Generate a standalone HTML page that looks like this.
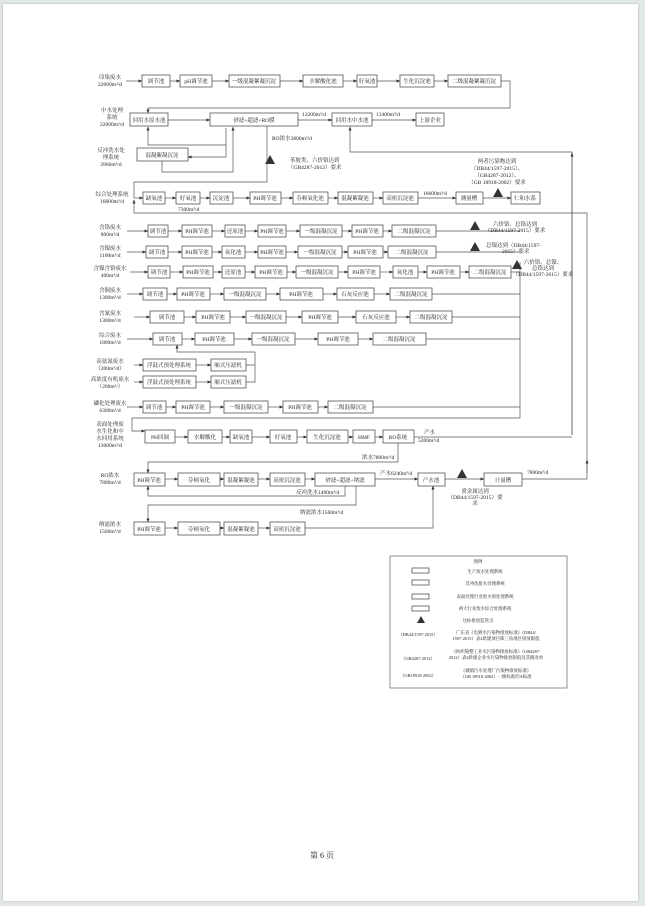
<!DOCTYPE html>
<html><head><meta charset="utf-8"><style>
html,body{margin:0;padding:0;background:#e2e8e8;width:645px;height:906px;overflow:hidden}
#pg{position:absolute;left:3px;top:4px;width:635px;height:897px;background:#fff;box-shadow:0 0 2px #aaa}
svg{position:absolute;left:0;top:0}
text{font-family:"Liberation Serif","Noto Serif CJK SC",serif;font-size:5.5px;fill:#222}
.b{fill:#fff;stroke:#555;stroke-width:0.8}
.l{fill:none;stroke:#555;stroke-width:0.7}
.c{text-anchor:middle}
.s{font-size:4.4px}
</style></head><body><div id="pg"></div>
<svg width="645" height="906" viewBox="0 0 645 906">
<defs><marker id="a" markerWidth="4" markerHeight="4" refX="3.5" refY="2" orient="auto" markerUnits="userSpaceOnUse"><path d="M0,0.5L4,2L0,3.5z" fill="#333"/></marker></defs>

<text x="110" y="79" class="c">印染废水</text><text x="110" y="86" class="c">22000m³/d</text>
<g class="l" marker-end="url(#a)"><path d="M126,81H142"/><path d="M170,81H180"/><path d="M212,81H229"/><path d="M280,81H303"/><path d="M343,81H357"/><path d="M377,81H400"/><path d="M434,81H448"/></g>
<rect class="b" x="142" y="75" width="28" height="12"/><text x="156" y="83" class="c">调节池</text>
<rect class="b" x="180" y="75" width="32" height="12"/><text x="196" y="83" class="c">pH调节池</text>
<rect class="b" x="229" y="75" width="51" height="12"/><text x="254" y="83" class="c">一级混凝絮凝沉淀</text>
<rect class="b" x="303" y="75" width="40" height="12"/><text x="323" y="83" class="c">水解酸化池</text>
<rect class="b" x="357" y="75" width="20" height="12"/><text x="367" y="83" class="c">好氧池</text>
<rect class="b" x="400" y="75" width="34" height="12"/><text x="417" y="83" class="c">生化沉淀池</text>
<rect class="b" x="448" y="75" width="53" height="12"/><text x="474" y="83" class="c">二级混凝絮凝沉淀</text>
<path class="l" d="M501,81H510V108H148V113" marker-end="url(#a)"/>

<text x="112" y="112" class="c">中水处理</text><text x="112" y="119" class="c">系统</text><text x="112" y="126" class="c">22000m³/d</text>
<rect class="b" x="130" y="113" width="38" height="13"/><text x="149" y="122" class="c">回用水原水池</text>
<rect class="b" x="210" y="113" width="88" height="13"/><text x="254" y="122" class="c">砂滤+超滤+RO膜</text>
<rect class="b" x="332" y="113" width="40" height="13"/><text x="352" y="122" class="c">回用水中水池</text>
<rect class="b" x="416" y="113" width="28" height="13"/><text x="430" y="122" class="c">上游企业</text>
<g class="l" marker-end="url(#a)"><path d="M168,120H210"/><path d="M298,120H332"/><path d="M372,120H416"/></g>
<text x="302" y="116">13200m³/d</text><text x="376" y="116">13400m³/d</text>
<path class="l" d="M572,435V152H350V127" marker-end="url(#a)"/>
<path class="l" d="M572,435V153" marker-end="url(#a)"/>
<text x="272" y="140">RO浓水3800m³/d</text>

<text x="111" y="152" class="c">反冲洗水处</text><text x="111" y="159" class="c">理系统</text><text x="111" y="166" class="c">3960m³/d</text>
<rect class="b" x="137" y="148" width="51" height="13"/><text x="162" y="157" class="c">混凝絮凝沉淀</text>
<path class="l" d="M226,128V145H148V127" marker-end="url(#a)"/>
<path class="l" d="M226,145V157H188" marker-end="url(#a)"/>
<path class="l" d="M162,161V172H233V127" marker-end="url(#a)"/>
<path d="M265,164l5,-9l5,9z" fill="#333"/>
<text x="290" y="162">苯胺类、六价铬达到</text><text x="288" y="169">（GB4287-2012）要求</text>

<text x="112" y="196" class="c">综合处理系统</text><text x="112" y="203" class="c">16600m³/d</text>
<path class="l" d="M267,126V182H134V198"/>
<path class="l" d="M587,473V213H134V200" marker-end="url(#a)"/>
<path class="l" d="M134,198H143" marker-end="url(#a)"/>
<rect class="b" x="143" y="192" width="22" height="12"/><text x="154" y="200" class="c">缺氧池</text>
<rect class="b" x="176" y="192" width="24" height="12"/><text x="188" y="200" class="c">好氧池</text>
<rect class="b" x="210" y="192" width="23" height="12"/><text x="221" y="200" class="c">沉淀池</text>
<rect class="b" x="250" y="192" width="31" height="12"/><text x="265" y="200" class="c">PH调节池</text>
<rect class="b" x="293" y="192" width="35" height="12"/><text x="310" y="200" class="c">芬顿氧化池</text>
<rect class="b" x="338" y="192" width="35" height="12"/><text x="355" y="200" class="c">混凝絮凝池</text>
<rect class="b" x="383" y="192" width="35" height="12"/><text x="400" y="200" class="c">高密沉淀池</text>
<rect class="b" x="456" y="192" width="27" height="12"/><text x="469" y="200" class="c">测量槽</text>
<rect class="b" x="511" y="192" width="29" height="12"/><text x="525" y="200" class="c">仁和水系</text>
<g class="l" marker-end="url(#a)"><path d="M165,198H176"/><path d="M200,198H210"/><path d="M233,198H250"/><path d="M281,198H293"/><path d="M328,198H338"/><path d="M373,198H383"/><path d="M418,198H456"/><path d="M483,198H511"/></g>
<path d="M493,197l5,-9l5,9z" fill="#333"/>
<text x="423" y="195">16600m³/d</text><text x="178" y="211">7300m³/d</text>
<text x="497" y="163" class="c">两者污染物达到</text><text x="497" y="170" class="c">（DB44/1597-2015）、</text><text x="497" y="177" class="c">（GB4287-2012）、</text><text x="497" y="184" class="c">（GB 18918-2002）要求</text>

<g class="l"><path d="M520,262V418"/><path d="M520,418H132V431H145" marker-end="url(#a)"/></g>

<text x="110" y="229" class="c">含铬废水</text><text x="110" y="236" class="c">800m³/d</text>
<g class="l" marker-end="url(#a)"><path d="M127,231H148"/><path d="M168,231H182"/><path d="M212,231H225"/><path d="M245,231H258"/><path d="M286,231H300"/><path d="M342,231H352"/><path d="M383,231H392"/></g>
<path class="l" d="M436,231H520"/>
<rect class="b" x="148" y="225" width="20" height="12"/><text x="158" y="233" class="c">调节池</text>
<rect class="b" x="182" y="225" width="30" height="12"/><text x="197" y="233" class="c">PH调节池</text>
<rect class="b" x="225" y="225" width="20" height="12"/><text x="235" y="233" class="c">还原池</text>
<rect class="b" x="258" y="225" width="28" height="12"/><text x="272" y="233" class="c">PH调节池</text>
<rect class="b" x="300" y="225" width="42" height="12"/><text x="321" y="233" class="c">一级混凝沉淀</text>
<rect class="b" x="352" y="225" width="31" height="12"/><text x="367" y="233" class="c">PH调节池</text>
<rect class="b" x="392" y="225" width="44" height="12"/><text x="414" y="233" class="c">二级混凝沉淀</text>
<path d="M470,230l5,-9l5,9z" fill="#333"/>
<text x="515" y="226" class="c">六价铬、总铬达到</text><text x="515" y="232" class="c">（DB44/1597-2015）要求</text>

<text x="110" y="250" class="c">含镍废水</text><text x="110" y="257" class="c">1100m³/d</text>
<g class="l" marker-end="url(#a)"><path d="M127,252H146"/><path d="M168,252H182"/><path d="M212,252H222"/><path d="M245,252H258"/><path d="M286,252H298"/><path d="M342,252H348"/><path d="M383,252H388"/></g>
<path class="l" d="M436,252H520"/>
<rect class="b" x="146" y="246" width="22" height="12"/><text x="157" y="254" class="c">调节池</text>
<rect class="b" x="182" y="246" width="30" height="12"/><text x="197" y="254" class="c">PH调节池</text>
<rect class="b" x="222" y="246" width="23" height="12"/><text x="233" y="254" class="c">氧化池</text>
<rect class="b" x="258" y="246" width="28" height="12"/><text x="272" y="254" class="c">PH调节池</text>
<rect class="b" x="298" y="246" width="44" height="12"/><text x="320" y="254" class="c">一级混凝沉淀</text>
<rect class="b" x="348" y="246" width="35" height="12"/><text x="365" y="254" class="c">PH调节池</text>
<rect class="b" x="388" y="246" width="48" height="12"/><text x="412" y="254" class="c">二级混凝沉淀</text>
<path d="M470,251l5,-9l5,9z" fill="#333"/>
<text x="486" y="247">总镍达到（DB44/1597-</text><text x="502" y="253">2015）要求</text>

<text x="110" y="270" class="c">含镍含铬废水</text><text x="110" y="277" class="c">400m³/d</text>
<g class="l" marker-end="url(#a)"><path d="M130,272H148"/><path d="M170,272H183"/><path d="M213,272H222"/><path d="M245,272H255"/><path d="M287,272H296"/><path d="M338,272H348"/><path d="M380,272H393"/><path d="M418,272H427"/><path d="M460,272H469"/></g>
<path class="l" d="M511,272H520"/>
<rect class="b" x="148" y="266" width="22" height="12"/><text x="159" y="274" class="c">调节池</text>
<rect class="b" x="183" y="266" width="30" height="12"/><text x="198" y="274" class="c">PH调节池</text>
<rect class="b" x="222" y="266" width="23" height="12"/><text x="233" y="274" class="c">还原池</text>
<rect class="b" x="255" y="266" width="32" height="12"/><text x="271" y="274" class="c">PH调节池</text>
<rect class="b" x="296" y="266" width="42" height="12"/><text x="317" y="274" class="c">一级混凝沉淀</text>
<rect class="b" x="348" y="266" width="32" height="12"/><text x="364" y="274" class="c">PH调节池</text>
<rect class="b" x="393" y="266" width="25" height="12"/><text x="405" y="274" class="c">氧化池</text>
<rect class="b" x="427" y="266" width="33" height="12"/><text x="443" y="274" class="c">PH调节池</text>
<rect class="b" x="469" y="266" width="42" height="12"/><text x="490" y="274" class="c">二级混凝沉淀</text>
<path d="M512,269l5,-9l5,9z" fill="#333"/>
<text x="543" y="264" class="c">六价铬、总镍、</text><text x="543" y="270" class="c">总铬达到</text><text x="543" y="276" class="c">（DB44/1597-2015）要求</text>

<text x="110" y="292" class="c">含铜废水</text><text x="110" y="299" class="c">1300m³/d</text>
<g class="l" marker-end="url(#a)"><path d="M127,294H143"/><path d="M167,294H177"/><path d="M210,294H224"/><path d="M266,294H280"/><path d="M323,294H337"/><path d="M374,294H390"/></g>
<path class="l" d="M432,294H520"/>
<rect class="b" x="143" y="288" width="24" height="12"/><text x="155" y="296" class="c">调节池</text>
<rect class="b" x="177" y="288" width="33" height="12"/><text x="193" y="296" class="c">PH调节池</text>
<rect class="b" x="224" y="288" width="42" height="12"/><text x="245" y="296" class="c">一级混凝沉淀</text>
<rect class="b" x="280" y="288" width="43" height="12"/><text x="301" y="296" class="c">PH调节池</text>
<rect class="b" x="337" y="288" width="37" height="12"/><text x="355" y="296" class="c">石灰反应池</text>
<rect class="b" x="390" y="288" width="42" height="12"/><text x="411" y="296" class="c">二级混凝沉淀</text>

<text x="110" y="315" class="c">含氰废水</text><text x="110" y="322" class="c">1300m³/d</text>
<g class="l" marker-end="url(#a)"><path d="M134,317H150"/><path d="M184,317H196"/><path d="M230,317H246"/><path d="M286,317H302"/><path d="M338,317H356"/><path d="M396,317H410"/></g>
<path class="l" d="M452,317H520"/>
<rect class="b" x="150" y="311" width="34" height="12"/><text x="167" y="319" class="c">调节池</text>
<rect class="b" x="196" y="311" width="34" height="12"/><text x="213" y="319" class="c">PH调节池</text>
<rect class="b" x="246" y="311" width="40" height="12"/><text x="266" y="319" class="c">一级混凝沉淀</text>
<rect class="b" x="302" y="311" width="36" height="12"/><text x="320" y="319" class="c">PH调节池</text>
<rect class="b" x="356" y="311" width="40" height="12"/><text x="376" y="319" class="c">石灰反应池</text>
<rect class="b" x="410" y="311" width="42" height="12"/><text x="431" y="319" class="c">二级混凝沉淀</text>

<text x="110" y="337" class="c">综合废水</text><text x="110" y="344" class="c">1800m³/d</text>
<g class="l" marker-end="url(#a)"><path d="M127,339H153"/><path d="M182,339H195"/><path d="M234,339H252"/><path d="M295,339H318"/><path d="M358,339H373"/></g>
<path class="l" d="M426,339H520"/>
<rect class="b" x="153" y="333" width="29" height="12"/><text x="167" y="341" class="c">调节池</text>
<rect class="b" x="195" y="333" width="39" height="12"/><text x="214" y="341" class="c">PH调节池</text>
<rect class="b" x="252" y="333" width="43" height="12"/><text x="273" y="341" class="c">一级混凝沉淀</text>
<rect class="b" x="318" y="333" width="40" height="12"/><text x="338" y="341" class="c">PH调节池</text>
<rect class="b" x="373" y="333" width="53" height="12"/><text x="399" y="341" class="c">二级混凝沉淀</text>

<text x="110" y="363" class="c">高氨氮废水</text><text x="110" y="370" class="c">（200m³/d）</text>
<text x="110" y="381" class="c">高浓度有机废水</text><text x="110" y="388" class="c">（200m³/）</text>
<rect class="b" x="143" y="359" width="53" height="12"/><text x="169" y="367" class="c">浮鼓式预处理系统</text>
<rect class="b" x="211" y="359" width="35" height="12"/><text x="228" y="367" class="c">厢式压滤机</text>
<rect class="b" x="143" y="376" width="53" height="12"/><text x="169" y="384" class="c">浮鼓式预处理系统</text>
<rect class="b" x="211" y="376" width="35" height="12"/><text x="228" y="384" class="c">厢式压滤机</text>
<g class="l" marker-end="url(#a)"><path d="M134,365H143"/><path d="M196,365H211"/><path d="M134,382H143"/><path d="M196,382H211"/></g>
<path class="l" d="M246,365H255V382H246M255,372V352H177V345" marker-end="url(#a)"/>

<text x="110" y="405" class="c">磷化处理废水</text><text x="110" y="412" class="c">6300m³/d</text>
<g class="l" marker-end="url(#a)"><path d="M127,407H143"/><path d="M166,407H176"/><path d="M210,407H224"/><path d="M268,407H283"/><path d="M318,407H328"/></g>
<path class="l" d="M373,407H520"/>
<rect class="b" x="143" y="401" width="23" height="12"/><text x="154" y="409" class="c">调节池</text>
<rect class="b" x="176" y="401" width="34" height="12"/><text x="193" y="409" class="c">PH调节池</text>
<rect class="b" x="224" y="401" width="44" height="12"/><text x="246" y="409" class="c">一级混凝沉淀</text>
<rect class="b" x="283" y="401" width="35" height="12"/><text x="300" y="409" class="c">PH调节池</text>
<rect class="b" x="328" y="401" width="45" height="12"/><text x="350" y="409" class="c">二级混凝沉淀</text>

<text x="110" y="426" class="c">表面处理废</text><text x="110" y="433" class="c">水生化和中</text><text x="110" y="440" class="c">水回用系统</text><text x="110" y="447" class="c">13000m³/d</text>
<g class="l" marker-end="url(#a)"><path d="M175,437H188"/><path d="M222,437H230"/><path d="M252,437H270"/><path d="M297,437H307"/><path d="M348,437H353"/><path d="M375,437H383"/></g>
<path class="l" d="M414,437H572"/>
<rect class="b" x="145" y="430" width="30" height="13"/><text x="160" y="439" class="c">PH回调</text>
<rect class="b" x="188" y="430" width="34" height="13"/><text x="205" y="439" class="c">水解酸化</text>
<rect class="b" x="230" y="430" width="22" height="13"/><text x="241" y="439" class="c">缺氧池</text>
<rect class="b" x="270" y="430" width="27" height="13"/><text x="283" y="439" class="c">好氧池</text>
<rect class="b" x="307" y="430" width="41" height="13"/><text x="327" y="439" class="c">生化沉淀池</text>
<rect class="b" x="353" y="430" width="22" height="13"/><text x="364" y="439" class="c">HMF</text>
<rect class="b" x="383" y="430" width="31" height="13"/><text x="398" y="439" class="c">RO系统</text>
<text x="424" y="434">产水</text><text x="418" y="442">5200m³/d</text>
<path class="l" d="M398,443V462H148V473" marker-end="url(#a)"/>
<text x="362" y="459">浓水7800m³/d</text>

<text x="110" y="477" class="c">RO浓水</text><text x="110" y="484" class="c">7800m³/d</text>
<g class="l" marker-end="url(#a)"><path d="M165,479H178"/><path d="M220,479H224"/><path d="M258,479H270"/><path d="M305,479H315"/><path d="M375,479H418"/><path d="M445,479H484"/></g>
<path class="l" d="M522,479H587" />
<path class="l" d="M587,479V460" marker-end="url(#a)"/>
<rect class="b" x="134" y="473" width="31" height="13"/><text x="149" y="482" class="c">PH调节池</text>
<rect class="b" x="178" y="473" width="42" height="13"/><text x="199" y="482" class="c">芬顿氧化</text>
<rect class="b" x="224" y="473" width="34" height="13"/><text x="241" y="482" class="c">混凝絮凝池</text>
<rect class="b" x="270" y="473" width="35" height="13"/><text x="287" y="482" class="c">高密沉淀池</text>
<rect class="b" x="315" y="473" width="60" height="13"/><text x="345" y="482" class="c">砂滤+超滤+纳滤</text>
<rect class="b" x="418" y="473" width="27" height="13"/><text x="431" y="482" class="c">产水池</text>
<rect class="b" x="484" y="473" width="38" height="13"/><text x="503" y="482" class="c">计量槽</text>
<path d="M457,478l5,-9l5,9z" fill="#333"/>
<text x="380" y="475">产水6240m³/d</text><text x="527" y="474">7800m³/d</text>
<text x="475" y="493" class="c">重金属达到</text><text x="475" y="499" class="c">（DB44/1597-2015）要</text><text x="475" y="505" class="c">求</text>
<path class="l" d="M345,486V496H148V486" marker-end="url(#a)"/>
<text x="296" y="494">反冲洗水1400m³/d</text>
<path class="l" d="M356,486V505H148V522" marker-end="url(#a)"/>
<text x="300" y="514">纳滤浓水1560m³/d</text>

<text x="110" y="526" class="c">纳滤浓水</text><text x="110" y="533" class="c">1560m³/d</text>
<g class="l" marker-end="url(#a)"><path d="M165,528H178"/><path d="M220,528H224"/><path d="M258,528H270"/></g>
<path class="l" d="M305,528H433V486" marker-end="url(#a)"/>
<rect class="b" x="134" y="522" width="31" height="13"/><text x="149" y="531" class="c">PH调节池</text>
<rect class="b" x="178" y="522" width="42" height="13"/><text x="199" y="531" class="c">芬顿氧化</text>
<rect class="b" x="224" y="522" width="34" height="13"/><text x="241" y="531" class="c">混凝絮凝池</text>
<rect class="b" x="270" y="522" width="35" height="13"/><text x="287" y="531" class="c">高密沉淀池</text>

<rect x="390" y="556" width="177" height="132" fill="#fff" stroke="#777" stroke-width="0.8"/>
<text x="478" y="563" class="c s">图例</text>
<rect class="b" x="412" y="568" width="17" height="5"/><text x="485" y="573" class="c s">生产废水处理系统</text>
<rect class="b" x="412" y="580" width="17" height="5"/><text x="485" y="585" class="c s">反冲洗废水处理系统</text>
<rect class="b" x="412" y="594" width="17" height="5"/><text x="485" y="598" class="c s">表面处理行业废水预处理系统</text>
<rect class="b" x="412" y="606" width="17" height="5"/><text x="485" y="610" class="c s">两大行业废水综合处理系统</text>
<path d="M417,623l4,-7l4,7z" fill="#333"/><text x="478" y="622" class="c s">达标排放监管点</text>
<text x="418" y="636" class="c s">（DB44/1597-2015）</text>
<text x="496" y="634" class="c s">广东省《电镀水污染物排放标准》（DB44/</text><text x="496" y="640" class="c s">1597-2015）表2新建项目珠三角地区排放限值</text>
<text x="418" y="660" class="c s">（GB4287-2012）</text>
<text x="496" y="653" class="c s">《纺织染整工业水污染物排放标准》（GB4287-</text><text x="496" y="659" class="c s">2012）表2新建企业水污染物排放限值及其修改单</text>
<text x="418" y="677" class="c s">（GB18918-2002）</text>
<text x="496" y="672" class="c s">《城镇污水处理厂污染物排放标准》</text><text x="496" y="678" class="c s">（GB 18918-2002）一级标准的A标准</text>

<text x="322" y="858" class="c" style="font-size:8px">第 6 页</text>
</svg></body></html>
